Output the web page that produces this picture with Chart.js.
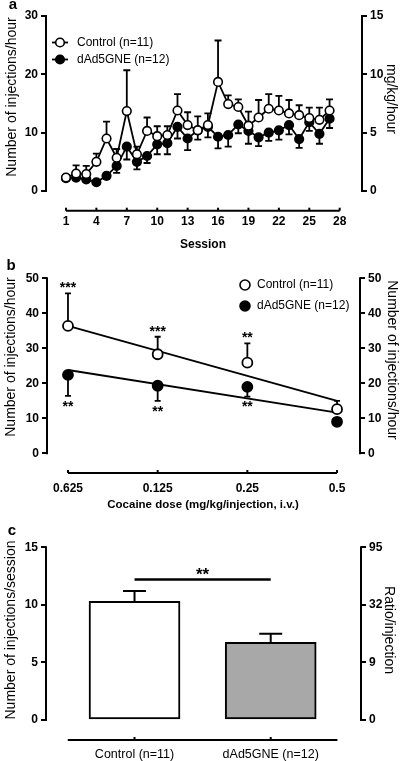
<!DOCTYPE html>
<html>
<head>
<meta charset="utf-8">
<script src="https://cdn.jsdelivr.net/npm/chart.js@4.4.1/dist/chart.umd.min.js"></script>
<style>
  body { margin: 0; background: #fff; width: 404px; height: 761px; position: relative; overflow: hidden; }
  canvas { position: absolute; left: 0; }
</style>
</head>
<body>
<canvas id="chartA" width="404" height="252" style="top:0px"></canvas>
<canvas id="chartB" width="404" height="262" style="top:252px"></canvas>
<canvas id="chartC" width="404" height="251" style="top:510px"></canvas>
<script>
// ---- panel a: acquisition over sessions ----
const sessions = [1, 2, 3, 4, 5, 6, 7, 8, 9, 10, 11, 12, 13, 14, 15, 16, 17, 18, 19, 20, 21, 22, 23, 24, 25, 26, 27];
const sessionTicks = [1, 4, 7, 10, 13, 16, 19, 22, 25, 28];
const controlA = [2.3, 3.0, 2.9, 5.0, 9.0, 5.7, 13.7, 6.3, 10.3, 9.4, 9.6, 13.8, 11.3, 10.4, 11.3, 18.7, 14.9, 14.4, 11.2, 12.6, 14.1, 13.8, 13.3, 13.0, 12.5, 12.2, 13.8];
const controlErrA = [0.3, 1.4, 1.4, 1.4, 2.9, 1.5, 7.0, 1.3, 2.3, 1.7, 1.5, 2.8, 2.2, 2.4, 2.0, 7.1, 1.5, 1.3, 2.4, 3.0, 2.5, 2.5, 2.3, 1.7, 1.8, 2.1, 1.9];
const gneA = [2.2, 2.3, 2.0, 1.5, 2.6, 4.3, 7.6, 5.0, 6.0, 8.0, 8.2, 11.0, 9.0, 10.4, 11.0, 9.3, 9.6, 11.4, 10.3, 9.2, 10.0, 10.4, 11.3, 8.9, 11.8, 9.8, 12.4];
const gneErrA = [0.3, 0.4, 0.4, 0.3, 0.5, 1.2, 2.2, 1.3, 1.2, 1.7, 1.9, 2.0, 2.0, 1.6, 1.8, 2.0, 2.0, 1.5, 2.2, 1.5, 1.4, 1.6, 1.6, 1.5, 1.5, 1.7, 1.6];

// ---- panel b: dose response ----
const doseLabels = ['0.625', '0.125', '0.25', '0.5'];
const doseX = [0, 1, 2, 3];
const controlB = [36.4, 28.3, 25.9, 12.6];
const controlErrB = [9.3, 5.0, 5.5, 2.4];
const gneB = [22.4, 19.3, 19.0, 9.0];
const gneErrB = [6.0, 4.3, 2.8, 0.5];
const fitX = [0, 3];
const controlFitB = [36.4, 15.0];
const gneFitB = [23.8, 11.6];
const controlStarsB = ['***', '***', '**', ''];
const gneStarsB = ['**', '**', '**', ''];

// ---- panel c: injections per session ----
const groupsC = ['Control (n=11)', 'dAd5GNE (n=12)'];
const valuesC = [10.3, 6.75];
const errC = [0.9, 0.75];
const colorsC = ['#ffffff', '#a8a8a8'];
const ratioTicksC = ['0', '9', '32', '95'];
const sigSpanC = [0, 1];
const sigLevelC = 12.2;

const FONT = '"Liberation Sans", Arial, sans-serif';
Chart.defaults.font.family = FONT;
Chart.defaults.color = '#000';

function yScale(min, max, step, width, position, labels) {
  return {
    type: 'linear', position: position, min: min, max: max,
    ticks: {
      stepSize: step, padding: 3, color: '#000', font: { weight: 'bold', size: 12 },
      callback: labels ? (v => labels[Math.round(v / step)]) : (v => v)
    },
    grid: { display: true, drawOnChartArea: false, drawTicks: true, tickLength: 5, color: '#000', lineWidth: 2 },
    border: { display: false },
    afterBuildTicks: s => { s.ticks = s.ticks.filter(t => t.value >= 0); },
    afterFit: s => { s.width = width; }
  };
}

function xScale(min, max, tickVals, height, labels, pad, font) {
  return {
    type: 'linear', position: 'bottom', min: min, max: max, offset: false,
    afterBuildTicks: s => { s.ticks = tickVals.map(v => ({ value: v })); },
    ticks: {
      padding: pad, autoSkip: false, maxRotation: 0, color: '#000', font: font,
      callback: labels ? ((v, i) => labels[i]) : (v => v)
    },
    grid: { display: false, drawTicks: false, offset: false },
    border: { display: false },
    afterFit: s => { s.height = height; }
  };
}

// error bars drawn under the points
const errorBars = {
  id: 'errorBars',
  beforeDatasetsDraw(chart) {
    const ctx = chart.ctx;
    chart.data.datasets.forEach((ds, i) => {
      if (!ds.errors) return;
      const meta = chart.getDatasetMeta(i);
      const ys = chart.scales[meta.yAxisID];
      ctx.save();
      ctx.strokeStyle = '#000';
      ctx.lineWidth = ds.errWidth || 1.8;
      meta.data.forEach((el, j) => {
        const err = ds.errors[j];
        if (!err) return;
        const v = ds.data[j].y;
        const y0 = ys.getPixelForValue(v);
        const y1 = ys.getPixelForValue(v + ds.errDir * err);
        const h = ds.capHalf || 3.5;
        ctx.beginPath();
        ctx.moveTo(el.x, y0); ctx.lineTo(el.x, y1);
        ctx.moveTo(el.x - h, y1); ctx.lineTo(el.x + h, y1);
        ctx.stroke();
      });
      ctx.restore();
    });
  }
};

function seg(ctx, x1, y1, x2, y2) {
  ctx.beginPath(); ctx.moveTo(x1, y1); ctx.lineTo(x2, y2); ctx.stroke();
}

function text(ctx, str, x, y, font, rot, align) {
  ctx.save();
  ctx.translate(x, y);
  if (rot) ctx.rotate(rot);
  ctx.font = font;
  ctx.fillStyle = '#000';
  ctx.textAlign = align || 'center';
  ctx.textBaseline = 'middle';
  ctx.fillText(str, 0, 0);
  ctx.restore();
}

// detached GraphPad style axes
function drawAxes(chart, xFrom, xTo) {
  const { ctx, chartArea, scales } = chart;
  const { x, y, y2 } = scales;
  ctx.save();
  ctx.strokeStyle = '#000';
  ctx.lineWidth = 2;
  seg(ctx, chartArea.left, y.getPixelForValue(0) + 1, chartArea.left, y.getPixelForValue(y.max) - 1);
  seg(ctx, chartArea.right, y2.getPixelForValue(0) + 1, chartArea.right, y2.getPixelForValue(y2.max) - 1);
  const yb = chartArea.bottom;
  seg(ctx, x.getPixelForValue(xFrom), yb, x.getPixelForValue(xTo), yb);
  x.ticks.forEach(t => {
    const px = x.getPixelForValue(t.value);
    seg(ctx, px, yb, px, yb - 3);
  });
  ctx.restore();
}

function circle(ctx, x, y, r, fill) {
  ctx.beginPath();
  ctx.arc(x, y, r, 0, Math.PI * 2);
  ctx.fillStyle = fill;
  ctx.fill();
  ctx.lineWidth = 1.6;
  ctx.strokeStyle = '#000';
  ctx.stroke();
}

const TITLE = '14px ' + FONT;
const HALF = Math.PI / 2;

// ---------------- panel a ----------------
new Chart(document.getElementById('chartA'), {
  type: 'line',
  data: {
    datasets: [
      {
        label: 'Control (n=11)',
        data: sessions.map((s, i) => ({ x: s, y: controlA[i] })),
        errors: controlErrA, errDir: 1, capHalf: 3.5,
        borderColor: '#000', borderWidth: 1.8, tension: 0,
        pointRadius: 4.3, pointBorderWidth: 1.6, pointBackgroundColor: '#fff', pointBorderColor: '#000'
      },
      {
        label: 'dAd5GNE (n=12)',
        data: sessions.map((s, i) => ({ x: s, y: gneA[i] })),
        errors: gneErrA, errDir: -1, capHalf: 3.5,
        borderColor: '#000', borderWidth: 1.8, tension: 0,
        pointRadius: 4.3, pointBorderWidth: 1.6, pointBackgroundColor: '#000', pointBorderColor: '#000'
      }
    ]
  },
  options: {
    responsive: false, animation: false, devicePixelRatio: 1,
    layout: { padding: { top: 16, left: 0, right: 0, bottom: 0 } },
    plugins: { legend: { display: false }, tooltip: { enabled: false } },
    scales: {
      x: xScale(-0.97, 30.2, sessionTicks, 41.3, null, 4, { weight: 'bold', size: 12 }),
      y: yScale(-3.38, 30, 10, 46, 'left'),
      y2: yScale(-1.69, 15, 5, 42, 'right')
    }
  },
  plugins: [errorBars, {
    id: 'extrasA',
    afterDraw(chart) {
      const ctx = chart.ctx;
      drawAxes(chart, sessionTicks[0], sessionTicks[sessionTicks.length - 1]);
      text(ctx, 'a', 13, 5, 'bold 15px ' + FONT);
      text(ctx, 'Number of injections/hour', 12, 97, TITLE, -HALF);
      text(ctx, 'mg/kg/hour', 391, 99, TITLE, HALF);
      text(ctx, 'Session', 203, 245, 'bold 12px ' + FONT);
      // legend
      chart.data.datasets.forEach((ds, i) => {
        const ly = [42.5, 59.5][i];
        ctx.save();
        ctx.strokeStyle = '#000';
        ctx.lineWidth = 1.8;
        seg(ctx, 52, ly, 68, ly);
        circle(ctx, 60, ly, 4.3, ds.pointBackgroundColor);
        ctx.restore();
        text(ctx, ds.label, 77, ly, '12px ' + FONT, 0, 'left');
      });
    }
  }]
});

// ---------------- panel b ----------------
new Chart(document.getElementById('chartB'), {
  type: 'line',
  data: {
    datasets: [
      {
        label: 'Control (n=11)', order: 1, showLine: false,
        data: doseX.map((d, i) => ({ x: d, y: controlB[i] })),
        errors: controlErrB, errDir: 1, capHalf: 3,
        pointRadius: 5, pointBorderWidth: 1.8, pointBackgroundColor: '#fff', pointBorderColor: '#000'
      },
      {
        label: 'dAd5GNE (n=12)', order: 1, showLine: false,
        data: doseX.map((d, i) => ({ x: d, y: gneB[i] })),
        errors: gneErrB, errDir: -1, capHalf: 3,
        pointRadius: 5, pointBorderWidth: 1.8, pointBackgroundColor: '#000', pointBorderColor: '#000'
      },
      {
        label: 'Control fit', order: 2,
        data: fitX.map((d, i) => ({ x: d, y: controlFitB[i] })),
        borderColor: '#000', borderWidth: 1.8, pointRadius: 0
      },
      {
        label: 'dAd5GNE fit', order: 2,
        data: fitX.map((d, i) => ({ x: d, y: gneFitB[i] })),
        borderColor: '#000', borderWidth: 1.8, pointRadius: 0
      }
    ]
  },
  options: {
    responsive: false, animation: false, devicePixelRatio: 1,
    layout: { padding: { top: 26.3, left: 0, right: 0, bottom: 0 } },
    plugins: { legend: { display: false }, tooltip: { enabled: false } },
    scales: {
      x: xScale(-0.234, 3.256, doseX, 41, doseLabels, 8, { weight: 'bold', size: 12 }),
      y: yScale(-5.63, 50, 10, 47, 'left'),
      y2: yScale(-5.63, 50, 10, 44, 'right')
    }
  },
  plugins: [errorBars, {
    id: 'extrasB',
    afterDraw(chart) {
      const ctx = chart.ctx;
      const ys = chart.scales.y;
      drawAxes(chart, doseX[0], doseX[doseX.length - 1]);
      text(ctx, 'b', 11, 14, 'bold 15px ' + FONT);
      text(ctx, 'Number of injections/hour', 11, 105, TITLE, -HALF);
      text(ctx, 'Number of injections/hour', 392, 108, TITLE, HALF);
      text(ctx, 'Cocaine dose (mg/kg/injection, i.v.)', 203, 253, 'bold 11.5px ' + FONT);
      // significance stars
      const cMeta = chart.getDatasetMeta(0).data;
      const gMeta = chart.getDatasetMeta(1).data;
      const starFont = 'bold 14px ' + FONT;
      controlStarsB.forEach((s, i) => {
        if (!s) return;
        const top = ys.getPixelForValue(controlB[i] + controlErrB[i]);
        text(ctx, s, cMeta[i].x, top - 5, starFont);
      });
      gneStarsB.forEach((s, i) => {
        if (!s) return;
        const bot = ys.getPixelForValue(gneB[i] - gneErrB[i]);
        text(ctx, s, gMeta[i].x, bot + 11, starFont);
      });
      // legend
      [0, 1].forEach(i => {
        const ds = chart.data.datasets[i];
        const ly = [33, 54][i];
        circle(ctx, 245, ly, 5, ds.pointBackgroundColor);
        text(ctx, ds.label, 257, ly, '12px ' + FONT, 0, 'left');
      });
    }
  }]
});

// ---------------- panel c ----------------
new Chart(document.getElementById('chartC'), {
  type: 'bar',
  data: {
    datasets: [{
      label: 'Injections/session',
      data: valuesC.map((v, i) => ({ x: i, y: v })),
      errors: errC, errDir: 1, capHalf: 11.5, errWidth: 2,
      backgroundColor: colorsC, borderColor: '#000', borderWidth: 2, borderSkipped: false,
      barThickness: 91
    }]
  },
  options: {
    responsive: false, animation: false, devicePixelRatio: 1,
    layout: { padding: { top: 37.3, left: 0, right: 0, bottom: 0 } },
    plugins: { legend: { display: false }, tooltip: { enabled: false } },
    scales: {
      x: xScale(-0.65, 1.663, [0, 1], 21, groupsC, 7.5, { size: 12.5 }),
      y: yScale(-1.74, 15, 5, 46, 'left'),
      y2: yScale(-1.74, 15, 5, 43, 'right', ratioTicksC)
    }
  },
  plugins: [errorBars, {
    id: 'extrasC',
    afterDraw(chart) {
      const ctx = chart.ctx;
      const { x, y } = chart.scales;
      drawAxes(chart, -0.49, 1.49);
      text(ctx, 'c', 12, 21, 'bold 15px ' + FONT);
      text(ctx, 'Number of injections/session', 11, 120, TITLE, -HALF);
      text(ctx, 'Ratio/injection', 389, 120, TITLE, HALF);
      // significance bar
      const ly = y.getPixelForValue(sigLevelC);
      ctx.save();
      ctx.strokeStyle = '#000';
      ctx.lineWidth = 2.5;
      seg(ctx, x.getPixelForValue(sigSpanC[0]), ly, x.getPixelForValue(sigSpanC[1]), ly);
      ctx.restore();
      const mid = (x.getPixelForValue(sigSpanC[0]) + x.getPixelForValue(sigSpanC[1])) / 2;
      text(ctx, '**', mid, ly - 4, 'bold 17px ' + FONT);
    }
  }]
});
</script>
</body>
</html>
